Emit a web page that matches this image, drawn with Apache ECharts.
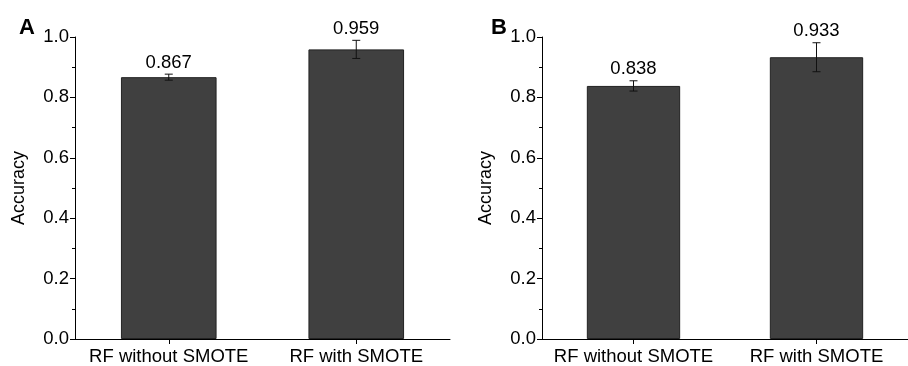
<!DOCTYPE html>
<html>
<head>
<meta charset="utf-8">
<script src="https://cdn.jsdelivr.net/npm/echarts@6/dist/echarts.min.js"></script>
<style>html,body{margin:0;padding:0;background:#fff}#c{width:908px;height:366px}</style>
</head>
<body>
<div id="c"></div>
<script>
const categories = ['RF without SMOTE', 'RF with SMOTE'];
const accuracyA = [0.867, 0.959];
const errorA = [0.010, 0.030];
const accuracyB = [0.838, 0.933];
const errorB = [0.017, 0.048];
const yTicks = [0.0, 0.2, 0.4, 0.6, 0.8, 1.0];

const FONT = 'Liberation Sans, Arial, sans-serif';
const chart = echarts.init(document.getElementById('c'), null, {renderer: 'canvas'});

function yAxis(gi) {
  return {
    type: 'value', gridIndex: gi, min: yTicks[0], max: yTicks[yTicks.length - 1], interval: 0.2,
    name: 'Accuracy', nameLocation: 'middle', nameGap: 47, nameRotate: 90,
    nameTextStyle: {fontFamily: FONT, fontSize: 18, color: '#000'},
    axisLine: {show: true, lineStyle: {color: '#000', width: 1}},
    axisTick: {show: true, length: 5, lineStyle: {color: '#000'}},
    minorTick: {show: true, splitNumber: 2, length: 3, lineStyle: {color: '#000'}},
    splitLine: {show: false},
    axisLabel: {fontFamily: FONT, fontSize: 18.5, color: '#000', margin: 6, formatter: v => v.toFixed(1)}
  };
}
function xAxis(gi) {
  return {
    type: 'category', gridIndex: gi, data: categories,
    axisLine: {show: true, lineStyle: {color: '#000', width: 1}},
    axisTick: {show: true, alignWithLabel: true, length: 5, lineStyle: {color: '#000'}},
    axisLabel: {fontFamily: FONT, fontSize: 18.5, color: '#000', margin: 8, interval: 0}
  };
}
function barSeries(gi, vals) {
  return {
    type: 'bar', xAxisIndex: gi, yAxisIndex: gi, data: vals, barWidth: '51%',
    itemStyle: {color: '#404040', borderColor: '#222', borderWidth: 1}
  };
}
function errSeries(gi, vals, errs) {
  return {
    type: 'custom', xAxisIndex: gi, yAxisIndex: gi,
    data: vals.map((v, i) => [i, v, errs[i]]),
    z: 5,
    renderItem: function (params, api) {
      const i = api.value(0), v = api.value(1), e = api.value(2);
      const top = api.coord([i, v + e]);
      const bot = api.coord([i, v - e]);
      const cap = 4;
      return {
        type: 'group',
        children: [
          {type: 'line', shape: {x1: top[0], y1: top[1], x2: bot[0], y2: bot[1]}, style: {stroke: '#111', lineWidth: 1}},
          {type: 'line', shape: {x1: top[0] - cap, y1: top[1], x2: top[0] + cap, y2: top[1]}, style: {stroke: '#111', lineWidth: 1}},
          {type: 'line', shape: {x1: bot[0] - cap, y1: bot[1], x2: bot[0] + cap, y2: bot[1]}, style: {stroke: '#111', lineWidth: 1}},
          {type: 'text', x: top[0], y: top[1] - 2, style: {text: v.toFixed(3), fontFamily: FONT, fontSize: 18.5, fill: '#000', align: 'center', verticalAlign: 'bottom'}}
        ]
      };
    }
  };
}

chart.setOption({
  animation: false,
  title: [
    {text: 'A', left: 14, top: 12, textStyle: {fontFamily: FONT, fontSize: 22, fontWeight: 'bold', color: '#000'}},
    {text: 'B', left: 486, top: 12, textStyle: {fontFamily: FONT, fontSize: 22, fontWeight: 'bold', color: '#000'}}
  ],
  grid: [
    {left: 75, top: 37, width: 375, bottom: 26},
    {left: 542, top: 37, width: 375, bottom: 26}
  ],
  xAxis: [xAxis(0), xAxis(1)],
  yAxis: [yAxis(0), yAxis(1)],
  series: [
    barSeries(0, accuracyA), errSeries(0, accuracyA, errorA),
    barSeries(1, accuracyB), errSeries(1, accuracyB, errorB)
  ]
});
</script>
</body>
</html>
